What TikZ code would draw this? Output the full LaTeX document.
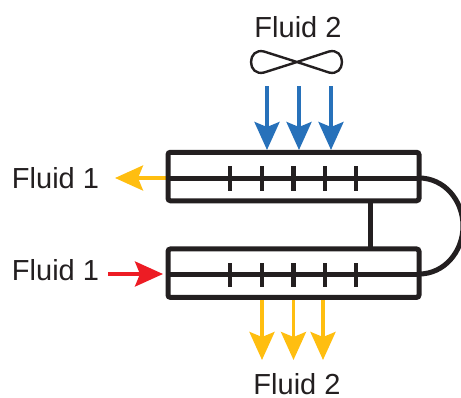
\documentclass[tikz,border=0pt]{standalone}
\usepackage{fontspec}
\setmainfont{Liberation Sans}
\usetikzlibrary{arrows.meta}
\definecolor{ink}{HTML}{231F20}
\definecolor{fblue}{HTML}{2771BA}
\definecolor{famber}{HTML}{FFBE10}
\definecolor{fred}{HTML}{ED1C24}
\tikzset{
  x=1pt,y=-1pt,
  exbox/.style={draw=ink,line width=5pt,rounded corners=2.5pt,minimum width=251pt,minimum height=48.5pt,outer sep=0pt,inner sep=0pt},
  pipe/.style={draw=ink,line width=5pt},
  ticka/.style={draw=ink,line width=4.6pt},
  flow/.style={line width=3.6pt,-{Stealth[length=28pt,width=25pt,inset=5pt]}},
  lab/.style={text=ink,font=\fontsize{29}{29}\selectfont,inner sep=0pt},
}
\begin{document}
\begin{tikzpicture}
\useasboundingbox (0,0) rectangle (461,397);
\coordinate (lout) at (115,178);\coordinate (lroot) at (167,178);
\draw[flow,famber] (lroot) -- (lout);
\node[exbox] (b1) at (293.5,176.5) {};
\node[exbox] (b2) at (293.5,273.2) {};
\draw[pipe] (b1.west |- lroot) -- (b1.east |- lroot);
\coordinate (m2) at (168,274);
\draw[pipe] (m2) -- (b2.east |- m2);
\foreach \x [count=\i] in {230,262,293.5,325,356}{
  \coordinate (ta\i) at (\x,166);\coordinate (tb\i) at (\x,190.7);
  \draw[ticka] (ta\i) -- (tb\i);
  \coordinate (tc\i) at (\x,263);\coordinate (td\i) at (\x,287);
  \draw[ticka] (tc\i) -- (td\i);
}
\coordinate (jt) at (370,201);\coordinate (jb) at (370,249);
\draw[pipe] (jt) -- (jb);
\coordinate (ra) at (419,178);\coordinate (rb) at (419,274);
\draw[pipe] (ra) .. controls (444,178) and (463,200) .. (463,226) .. controls (463,252) and (444,274) .. (rb);
\coordinate (fc) at (297,62);
\draw[ink,line width=2.4pt,line join=round] (fc) -- (329,51.5) .. controls (337,49.5) and (342,55) .. (342,62) .. controls (342,69) and (337,74.5) .. (329,72.5) -- (fc) -- (264,72.5) .. controls (256,74.5) and (251,69) .. (251,62) .. controls (251,55) and (256,49.5) .. (264,51.5) -- cycle;
\foreach \x in {267,299,331}{
  \coordinate (bs) at (\x,86);\coordinate (be) at (\x,150);
  \draw[flow,fblue] (bs) -- (be);
}
\foreach \x in {262,293.5,323}{
  \coordinate (as) at (\x,300);\coordinate (ae) at (\x,360);
  \draw[flow,famber] (as) -- (ae);
}
\coordinate (rs) at (108,274);\coordinate (re) at (163,274);
\draw[flow,fred] (rs) -- (re);
\node[lab] (t1) at (298,27) {Fluid 2};
\node[lab] (t2) at (55.5,178) {Fluid 1};
\node[lab] (t3) at (55.5,270.5) {Fluid 1};
\node[lab] (t4) at (297,384.5) {Fluid 2};
\end{tikzpicture}
\end{document}
